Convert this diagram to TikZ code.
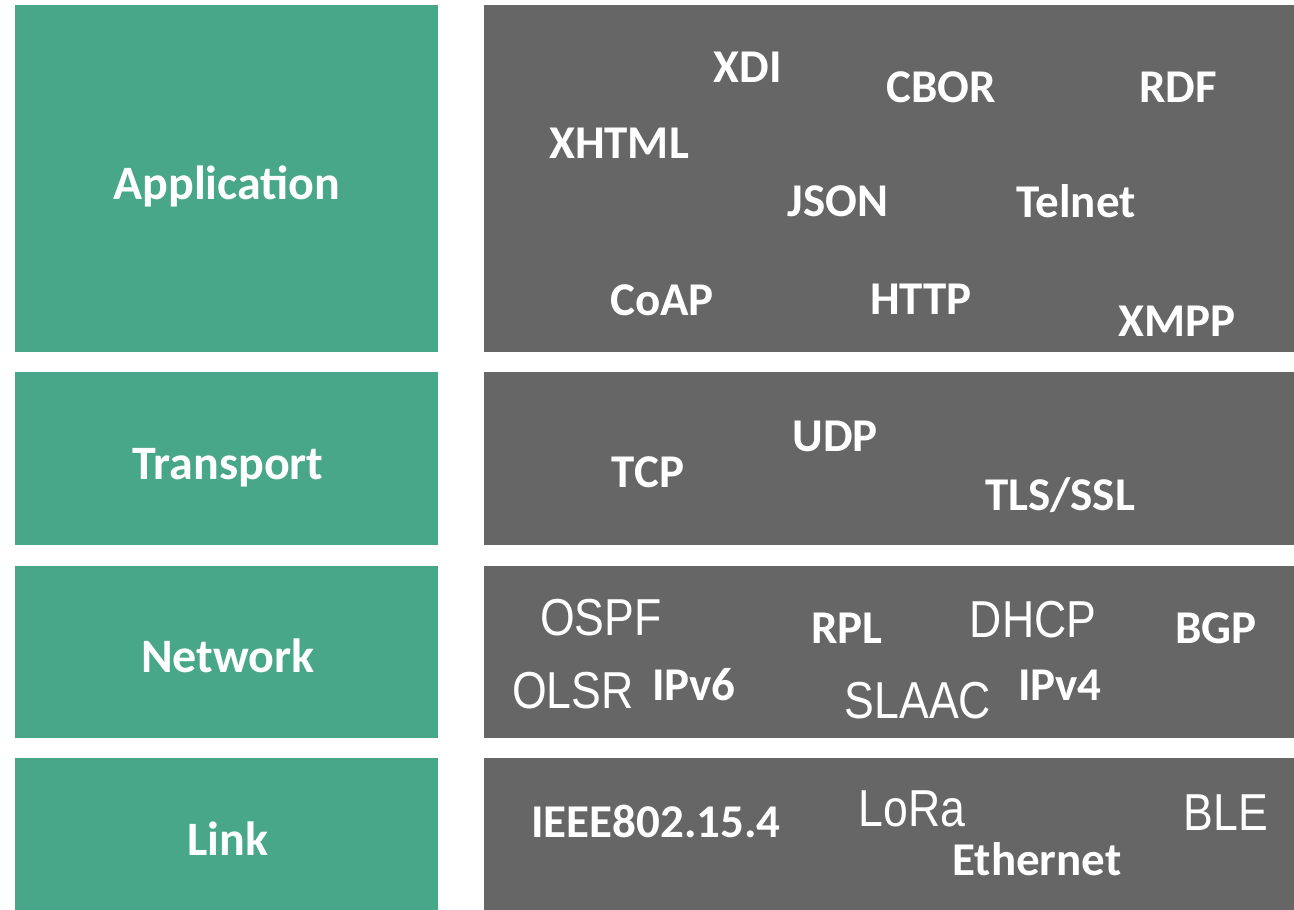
\documentclass[tikz,border=0pt]{standalone}
\usepackage{fontspec}
\usepackage{graphicx}
\newfontfamily\calib{Carlito}
\newfontfamily\arialf{Liberation Sans}
\newcommand{\tallstretch}[1]{\scalebox{0.97}[1.13]{#1}}
\definecolor{layergreen}{HTML}{48A788}
\definecolor{protogray}{HTML}{666666}
\tikzset{
  layerbox/.style={fill=layergreen, draw=none},
  protobox/.style={fill=protogray, draw=none},
  layerlabel/.style={text=white, inner sep=0pt, anchor=base, font=\calib\bfseries\fontsize{48}{48}\selectfont},
  protoc/.style={text=white, inner sep=0pt, anchor=base, font=\calib\bfseries\fontsize{47}{47}\selectfont},
  protoa/.style={text=white, inner sep=0pt, anchor=base, font=\arialf\fontsize{46}{46}\selectfont},
}
\begin{document}
\begin{tikzpicture}[x=1pt,y=-1pt]
\useasboundingbox (0,0) rectangle (1294,910);
\fill[white] (0,0) rectangle (1294,910);
% layer boxes
\path[layerbox] (15,5) rectangle (438,352);
\path[layerbox] (15,372) rectangle (438,545);
\path[layerbox] (15,566) rectangle (438,738);
\path[layerbox] (15,758) rectangle (438,910);
\path[protobox] (484,5) rectangle (1294,352);
\path[protobox] (484,372) rectangle (1294,545);
\path[protobox] (484,566) rectangle (1294,738);
\path[protobox] (484,758) rectangle (1294,910);
% layer labels
\node[layerlabel] (application) at (227,199) {Application};
\node[layerlabel] (transport) at (228,479) {Transport};
\node[layerlabel] (network) at (228,672) {Network};
\node[layerlabel] (link) at (228,855) {Link};
% application protocols
\node[protoc] (xdi) at (748,82) {XDI};
\node[protoc] (cbor) at (941,102) {CBOR};
\node[protoc] (rdf) at (1178,102) {RDF};
\node[protoc] (xhtml) at (619,158) {XHTML};
\node[protoc] (json) at (838,216) {JSON};
\node[protoc] (telnet) at (1076,217) {Telnet};
\node[protoc] (coap) at (662,315) {CoAP};
\node[protoc] (http) at (921,314) {HTTP};
\node[protoc] (xmpp) at (1177,336) {XMPP};
% transport protocols
\node[protoc] (tcp) at (648,487) {TCP};
\node[protoc] (udp) at (835,451) {UDP};
\node[protoc] (tls) at (1060,510) {TLS/SSL};
% network protocols
\node[protoa] (ospf) at (601,635) {\tallstretch{OSPF}};
\node[protoc] (rpl) at (847,643) {RPL};
\node[protoa] (dhcp) at (1033,637) {\tallstretch{DHCP}};
\node[protoc] (bgp) at (1216,643) {BGP};
\node[protoa] (olsr) at (573,708) {\tallstretch{OLSR}};
\node[protoc] (ipv6) at (694,700) {IPv6};
\node[protoa] (slaac) at (918,718) {\tallstretch{SLAAC}};
\node[protoc] (ipv4) at (1060,700) {IPv4};
% link protocols
\node[protoc] (ieee) at (656,837) {IEEE802.15.4};
\node[protoa] (lora) at (912,826) {\tallstretch{LoRa}};
\node[protoa] (ble) at (1226,830) {\tallstretch{BLE}};
\node[protoc] (eth) at (1037,875) {Ethernet};
\end{tikzpicture}
\end{document}
